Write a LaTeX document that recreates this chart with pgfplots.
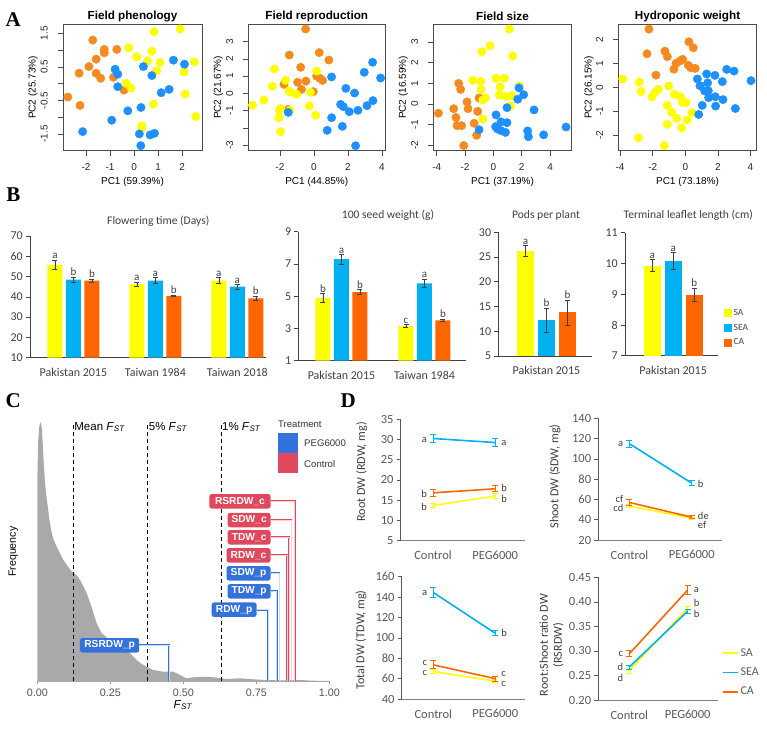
\documentclass[border=0pt]{standalone}
\usepackage{pgfplots}
\pgfplotsset{compat=1.18}
\usepackage{fontspec}
\setmainfont{Liberation Sans}
\newfontfamily\calibri{Carlito}
\newfontfamily\tnr{Liberation Serif}
\definecolor{Aor}{HTML}{F58A1F}
\definecolor{Ayel}{HTML}{FFFF00}
\definecolor{Ablu}{HTML}{1E90FF}
\definecolor{Byel}{HTML}{FFFF00}
\definecolor{Bblu}{HTML}{00B0F0}
\definecolor{Bor}{HTML}{FF6600}
\definecolor{Cgray}{HTML}{A9A9A9}
\definecolor{Cred}{HTML}{E0485D}
\definecolor{Cblu}{HTML}{3571DB}
\definecolor{txt}{HTML}{404040}
\definecolor{tk}{HTML}{595959}
\pgfplotsset{
  /pgf/number format/assume math mode=true,
  Astyle/.style={scale only axis, anchor=south west, clip=false,
    axis line style={black!70, line width=0.6pt},
    tick align=outside, tick pos=left, major tick length=5pt,
    every tick/.style={black!70, line width=0.6pt},
    ticklabel style={font=\fontsize{10}{12}\selectfont, text=black!85},
    xticklabel style={inner sep=1pt, yshift=-7pt},
    yticklabel style={xshift=-9pt, rotate=90, anchor=south, inner sep=1pt}},
  Apt/.style={only marks, mark=*, mark size=4.2pt, mark options={draw=none}},
  Bstyle/.style={scale only axis, anchor=south west, clip mode=individual,
    axis lines=left, axis line style={-, txt, line width=0.6pt},
    xtick style={draw=none}, ytick style={txt, line width=0.6pt},
    tick align=outside, major tick length=4pt,
    ticklabel style={font=\calibri\fontsize{12}{14}\selectfont, text=txt},
    yticklabel style={inner sep=1pt, xshift=-2pt},
    xticklabel style={yshift=-3pt}},
  Bbar/.style={ybar, bar shift=0pt, draw=none, forget plot,
    error bars/y dir=both, error bars/y explicit,
    error bars/error bar style={txt, line width=0.6pt},
    error bars/error mark options={rotate=90, mark size=2.5pt, txt, line width=0.6pt}},
  Dstyle/.style={scale only axis, anchor=south west, clip=false,
    axis lines=left, axis line style={-, line width=0.6pt},
    x axis line style={gray}, y axis line style={tk},
    xtick={0,1}, xticklabels={Control,PEG6000}, xtick style={draw=none},
    ytick style={tk, line width=0.6pt}, tick align=outside, major tick length=4pt,
    ticklabel style={font=\calibri\fontsize{12.5}{14}\selectfont, text=tk},
    yticklabel style={inner sep=1pt, xshift=-2pt}, xticklabel style={yshift=-3pt}},
  Dln/.style={line width=1.6pt, forget plot, mark=none,
    error bars/y dir=both, error bars/y explicit,
    error bars/error bar style={line width=1pt},
    error bars/error mark options={rotate=90, mark size=3pt, line width=1pt}},
}
\tikzset{
  Blet/.style={font=\calibri\fontsize{11}{13}\selectfont, text=txt, anchor=south, inner sep=1pt},
  Dlet/.style={font=\calibri\fontsize{10.5}{12}\selectfont, text=txt, inner sep=0pt},
  Clab/.style={fill=#1, text=white, font=\bfseries\fontsize{10.2}{12}\selectfont, rounded corners=2.5pt, minimum height=14.5pt, inner sep=1pt},
  Atitle/.style={font=\bfseries\fontsize{11.7}{14}\selectfont},
  Alab/.style={font=\fontsize{10}{12}\selectfont},
  Btitle/.style={font=\calibri\fontsize{11.6}{14}\selectfont, text=txt},
  Dylab/.style={rotate=90, font=\calibri\fontsize{12.2}{14}\selectfont, text=txt, align=center},
  Plet/.style={font=\tnr\bfseries\fontsize{21}{24}\selectfont}
}
\newcommand{\bl}[3]{\node[Blet] at (axis cs:#1,#2) {#3};}
\newcommand{\dL}[2]{\node[Dlet, anchor=east, xshift=-6pt] at (axis cs:0,#1) {#2};}
\newcommand{\dR}[2]{\node[Dlet, anchor=west, xshift=6pt] at (axis cs:1,#1) {#2};}
\begin{document}
\begin{tikzpicture}
\path[use as bounding box] (0pt,0pt) rectangle (767pt,-728pt);

% ================= Panel A =================
\begin{axis}[Astyle, at={(63pt,-150.7pt)}, width=139pt, height=126.4pt,
  xmin=-2.96, xmax=2.83, ymin=-2.0, ymax=1.77,
  xtick={-2,-1,0,1,2}, xticklabels={-2,-1,0,1,2},
  ytick={-1.5,-1,-0.5,0,0.5,1,1.5}, yticklabels={-1.5,,-0.5,,0.5,,1.5}]
\addplot[Apt, Aor] coordinates {(-1.72,1.30) (-1.24,1.02) (-1.24,0.92) (-0.72,1.02) (-1.58,0.73) (-1.88,0.51) (-2.29,0.31) (-1.58,0.31) (-1.39,0.16) (-0.86,0.19) (-0.42,-0.19) (-2.76,-0.40) (-2.25,-0.65)};
\addplot[Apt, Ayel] coordinates {(0.83,1.55) (1.92,1.63) (-0.22,1.07) (0.74,0.97) (0.11,0.80) (0.56,0.68) (1.08,0.63) (2.51,0.65) (0.94,0.38) (2.08,0.35) (-0.33,0.01) (-0.13,-0.13) (2.13,-0.31) (0.81,-0.61) (2.57,-0.98) (0.32,-1.26) (0.32,-1.33)};
\addplot[Apt, Ablu] coordinates {(-0.79,0.43) (-0.68,0.28) (0.39,0.51) (0.74,0.24) (1.64,0.70) (2.10,0.58) (-0.68,-0.09) (1.46,-0.17) (1.13,-0.27) (-0.26,-0.81) (0.29,-0.71) (-0.93,-1.09) (-2.14,-1.43) (0.22,-1.50) (0.67,-1.53) (0.85,-1.48) (0.28,-1.85)};
\end{axis}

\begin{axis}[Astyle, at={(248.3pt,-150.7pt)}, width=136.7pt, height=126.4pt,
  xmin=-3.86, xmax=4.18, ymin=-3.32, ymax=4.0,
  xtick={-2,0,2,4}, xticklabels={-2,0,2,4},
  ytick={-3,-2,-1,0,1,2,3}, yticklabels={-3,,-1,0,1,2,3}]
\addplot[Apt, Aor] coordinates {(-0.49,3.73) (-1.45,2.22) (0.31,2.36) (0.88,1.93) (-0.78,1.51) (-0.96,0.64) (-0.47,0.71) (-1.76,0.52) (0.16,1.00) (0.35,0.87) (0.51,0.75) (-0.73,0.23) (-0.04,0.10) (-1.51,-0.93)};
\addplot[Apt, Ayel] coordinates {(-2.33,1.41) (-1.67,0.75) (0.16,1.29) (-2.45,0.41) (-1.47,0.14) (-1.35,0.06) (-1.02,-0.06) (-0.20,0.06) (-2.94,-0.39) (-3.61,-0.69) (-1.96,-0.87) (-2.04,-0.97) (-1.41,-0.98) (-0.27,-0.73) (0.10,-1.27) (-2.06,-1.41) (-1.96,-2.22)};
\addplot[Apt, Ablu] coordinates {(1.04,0.95) (1.88,0.29) (2.39,0.02) (2.96,1.22) (3.45,1.80) (3.92,0.89) (1.04,-1.41) (1.57,-0.64) (1.73,-0.77) (2.08,-1.06) (2.59,-0.98) (3.12,-0.71) (3.47,-0.42) (1.67,-1.91) (0.78,-2.14) (2.45,-3.03) (-1.51,-1.10)};
\end{axis}

\begin{axis}[Astyle, at={(433.3pt,-150.7pt)}, width=138.4pt, height=126.4pt,
  xmin=-4.24, xmax=5.53, ymin=-2.27, ymax=3.87,
  xtick={-4,-2,0,2,4}, xticklabels={-4,-2,0,2,4},
  ytick={-2,-1,0,1,2,3}, yticklabels={-2,-1,0,1,2,3}]
\addplot[Apt, Aor] coordinates {(-2.45,1.00) (-2.31,0.71) (-1.86,0.10) (-1.79,-0.23) (-1.01,0.29) (-2.80,-0.23) (-1.11,-0.36) (-3.88,-0.45) (-2.64,-0.66) (-2.56,-1.05) (-2.24,-1.05) (-1.36,-0.94) (-1.18,-1.52) (-2.09,-2.02)};
\addplot[Apt, Ayel] coordinates {(1.13,3.64) (-0.24,2.83) (-0.82,2.54) (1.36,2.33) (-1.46,1.15) (-0.89,1.10) (0.19,1.25) (0.78,1.25) (-0.87,0.70) (0.47,0.83) (0.42,0.44) (0.87,0.36) (1.29,0.40) (1.81,0.87) (-0.75,0.19) (-0.56,0.29) (1.22,-0.10) (-0.75,-0.73)};
\addplot[Apt, Ablu] coordinates {(1.81,0.78) (2.14,0.45) (1.72,0.23) (2.87,-0.29) (0.96,-0.18) (0.19,-0.53) (-1.01,-1.25) (0.16,-1.10) (0.28,-1.21) (0.52,-1.29) (0.54,-0.87) (0.96,-0.91) (0.85,-1.38) (2.42,-1.31) (2.47,-1.59) (3.55,-1.50) (5.13,-1.12)};
\end{axis}

\begin{axis}[Astyle, at={(618.3pt,-150.7pt)}, width=138.4pt, height=126.4pt,
  xmin=-4.11, xmax=4.38, ymin=-2.64, ymax=2.63,
  xtick={-4,-2,0,2,4}, xticklabels={-4,-2,0,2,4},
  ytick={-2,-1,0,1,2}, yticklabels={-2,-1,0,1,2}]
\addplot[Apt, Aor] coordinates {(-2.23,2.43) (0.22,1.90) (0.49,1.65) (-1.25,1.51) (-1.10,1.28) (-2.35,1.40) (-0.57,1.00) (-0.33,1.10) (-0.16,1.17) (-0.70,0.76) (0.18,0.92) (0.33,0.82) (0.61,0.79) (-1.80,0.51)};
\addplot[Apt, Ayel] coordinates {(-3.84,0.35) (-2.82,0.22) (-2.72,-0.17) (-1.66,-0.08) (-1.86,-0.21) (-2.04,-0.40) (-1.02,0.06) (-0.67,-0.29) (-0.31,-0.39) (-0.16,-0.63) (0.04,-0.63) (-1.10,-0.75) (-0.84,-1.04) (-0.53,-1.29) (0.41,-1.06) (0.12,-1.36) (-1.10,-1.54) (-0.22,-1.69) (-2.88,-2.10) (-1.29,-2.43)};
\addplot[Apt, Ablu] coordinates {(0.74,0.35) (1.31,0.56) (1.82,0.50) (2.54,0.75) (2.99,0.68) (4.03,0.28) (0.90,0.07) (1.37,0.19) (2.27,0.24) (1.19,-0.15) (1.41,-0.14) (1.43,-0.43) (1.84,-0.39) (2.31,-0.51) (1.04,-0.75) (1.86,-0.78) (3.07,-0.88) (0.82,-1.13)};
\end{axis}

\node[Atitle] at (132.5pt,-16pt) {Field phenology};
\node[Atitle] at (316.7pt,-16pt) {Field reproduction};
\node[Atitle] at (502.5pt,-16pt) {Field size};
\node[Atitle] at (687.5pt,-16pt) {Hydroponic weight};
\node[Alab] at (132.5pt,-182pt) {PC1 (59.39\%)};
\node[Alab] at (316.7pt,-182pt) {PC1 (44.85\%)};
\node[Alab] at (502.5pt,-182pt) {PC1 (37.19\%)};
\node[Alab] at (687.5pt,-182pt) {PC1 (73.18\%)};
\node[Alab, rotate=90] at (33pt,-87.5pt) {PC2 (25.73\%)};
\node[Alab, rotate=90] at (218.3pt,-87.5pt) {PC2 (21.67\%)};
\node[Alab, rotate=90] at (403.3pt,-87.5pt) {PC2 (16.59\%)};
\node[Alab, rotate=90] at (589pt,-87.5pt) {PC2 (26.15\%)};

% ================= Panel B =================
\begin{axis}[Bstyle, at={(30pt,-357.7pt)}, width=236pt, height=121.7pt,
  xmin=-0.53, xmax=2.35, ymin=10, ymax=70, ytick={10,20,...,70},
  xtick={0,1,2}, xticklabels={Pakistan 2015,Taiwan 1984,Taiwan 2018}]
\addplot[Bbar, bar width=15pt, fill=Byel] coordinates {(-0.2258,55.8) +- (0,2.3) (0.7742,46.3) +- (0,1.0) (1.7742,48.0) +- (0,1.4)};
\addplot[Bbar, bar width=15pt, fill=Bblu] coordinates {(0,48.5) +- (0,1.2) (1,48.0) +- (0,1.5) (2,45.0) +- (0,1.2)};
\addplot[Bbar, bar width=15pt, fill=Bor] coordinates {(0.2258,48.0) +- (0,0.8) (1.2258,40.5) +- (0,0.4) (2.2258,39.2) +- (0,1.1)};
\bl{-0.2258}{58.1}{a}\bl{0}{49.7}{b}\bl{0.2258}{48.8}{b}
\bl{0.7742}{47.3}{a}\bl{1}{49.5}{a}\bl{1.2258}{40.9}{b}
\bl{1.7742}{49.4}{a}\bl{2}{46.2}{a}\bl{2.2258}{40.3}{b}
\end{axis}

\begin{axis}[Bstyle, at={(298.3pt,-360.7pt)}, width=167.7pt, height=129pt,
  xmin=-0.52, xmax=1.5, ymin=1, ymax=9, ytick={1,3,5,7,9},
  xtick={0,1}, xticklabels={Pakistan 2015,Taiwan 1984}]
\addplot[Bbar, bar width=15pt, fill=Byel] coordinates {(-0.2228,4.9) +- (0,0.25) (0.7772,3.15) +- (0,0.1)};
\addplot[Bbar, bar width=15pt, fill=Bblu] coordinates {(0,7.3) +- (0,0.3) (1,5.8) +- (0,0.25)};
\addplot[Bbar, bar width=15pt, fill=Bor] coordinates {(0.2228,5.25) +- (0,0.15) (1.2228,3.5) +- (0,0.08)};
\bl{-0.2228}{5.15}{b}\bl{0}{7.6}{a}\bl{0.2228}{5.4}{b}
\bl{0.7772}{3.25}{c}\bl{1}{6.05}{a}\bl{1.2228}{3.58}{b}
\end{axis}

\begin{axis}[Bstyle, at={(498.3pt,-356pt)}, width=93.8pt, height=123.7pt,
  xmin=-0.58, xmax=0.55, ymin=5, ymax=30, ytick={5,10,...,30},
  xtick={0}, xticklabels={Pakistan 2015}]
\addplot[Bbar, bar width=17pt, fill=Byel] coordinates {(-0.253,26.2) +- (0,1.1)};
\addplot[Bbar, bar width=17pt, fill=Bblu] coordinates {(0,12.2) +- (0,2.5)};
\addplot[Bbar, bar width=17pt, fill=Bor] coordinates {(0.253,13.8) +- (0,2.5)};
\bl{-0.253}{27.3}{a}\bl{0}{14.7}{b}\bl{0.253}{16.3}{b}
\end{axis}

\begin{axis}[Bstyle, at={(625pt,-355.7pt)}, width=93pt, height=123pt,
  xmin=-0.58, xmax=0.54, ymin=7, ymax=11, ytick={7,8,...,11},
  xtick={0}, xticklabels={Pakistan 2015},
  legend style={at={(1.065,0.396)}, anchor=north west, draw=none, fill=none,
    font=\calibri\fontsize{9.5}{11}\selectfont, text=txt, row sep=3pt, inner sep=0pt},
  legend cell align=left]
\addplot[Bbar, bar width=17pt, fill=Byel] coordinates {(-0.2529,9.93) +- (0,0.2)};
\addplot[Bbar, bar width=17pt, fill=Bblu] coordinates {(0,10.08) +- (0,0.27)};
\addplot[Bbar, bar width=17pt, fill=Bor] coordinates {(0.2529,8.98) +- (0,0.22)};
\bl{-0.2529}{10.13}{a}\bl{0}{10.35}{a}\bl{0.2529}{9.2}{b}
\addlegendimage{legend image code/.code={\fill[Byel] (0pt,-3.5pt) rectangle (7pt,3.5pt);}}
\addlegendentry{SA}
\addlegendimage{legend image code/.code={\fill[Bblu] (0pt,-3.5pt) rectangle (7pt,3.5pt);}}
\addlegendentry{SEA}
\addlegendimage{legend image code/.code={\fill[Bor] (0pt,-3.5pt) rectangle (7pt,3.5pt);}}
\addlegendentry{CA}
\end{axis}

\node[Btitle] at (158.3pt,-221.7pt) {Flowering time (Days)};
\node[Btitle] at (388pt,-215.7pt) {100 seed weight (g)};
\node[Btitle] at (546pt,-215.7pt) {Pods per plant};
\node[Btitle] at (688.3pt,-215.7pt) {Terminal leaflet length (cm)};

% ================= Panel C =================
\begin{axis}[scale only axis, anchor=south west, at={(37.3pt,-681pt)}, width=292pt, height=260pt,
  xmin=0, xmax=1, ymin=0, ymax=260, clip=false,
  axis x line=bottom, axis y line=none, axis line style={-, black!35, line width=0.5pt},
  xtick={0,0.25,0.5,0.75,1}, xticklabels={0.00,0.25,0.50,0.75,1.00},
  tick align=outside, major tick length=3pt, xtick style={black!40, line width=0.5pt},
  ticklabel style={font=\fontsize{10.8}{13}\selectfont, text=black!68},
  xticklabel style={yshift=-1pt}]
\addplot[fill=Cgray, draw=none, forget plot] coordinates {(0,200) (0.003,240) (0.007,255) (0.012,259) (0.016,252) (0.021,223) (0.026,200) (0.031,185) (0.037,172) (0.042,160) (0.048,150) (0.055,142) (0.062,137) (0.072,131) (0.089,121) (0.106,114) (0.118,109.5) (0.126,108) (0.140,104) (0.152,98) (0.169,88) (0.186,74) (0.203,58) (0.220,48) (0.249,41) (0.283,34) (0.317,28) (0.340,21) (0.363,16) (0.397,11) (0.432,9.3) (0.466,9.3) (0.489,6) (0.511,2.7) (0.534,3.7) (0.568,4.3) (0.603,3.7) (0.648,2) (0.694,2.7) (0.740,1.7) (0.785,1) (0.842,0.7) (0.900,1) (0.945,0.3) (1.0,0)} \closedcycle;
\addplot[black, line width=0.9pt, dash pattern=on 4pt off 3pt, forget plot] coordinates {(0.123,0) (0.123,258)};
\addplot[black, line width=0.9pt, dash pattern=on 4pt off 3pt, forget plot] coordinates {(0.378,0) (0.378,258)};
\addplot[black, line width=0.9pt, dash pattern=on 4pt off 3pt, forget plot] coordinates {(0.629,0) (0.629,258)};
% connectors
\addplot[Cred, line width=0.5pt, double=Cred!25, double distance=0.7pt, forget plot] coordinates {(0.799,179.7) (0.882,179.7) (0.882,0)};
\addplot[Cred, line width=0.5pt, double=Cred!25, double distance=0.7pt, forget plot] coordinates {(0.799,161) (0.871,161) (0.871,0)};
\addplot[Cred, line width=0.5pt, double=Cred!25, double distance=0.7pt, forget plot] coordinates {(0.799,143.7) (0.863,143.7) (0.863,0)};
\addplot[Cred, line width=0.5pt, double=Cred!25, double distance=0.7pt, forget plot] coordinates {(0.799,125.7) (0.856,125.7) (0.856,0)};
\addplot[Cblu, line width=0.5pt, double=Cblu!25, double distance=0.7pt, forget plot] coordinates {(0.799,107.7) (0.829,107.7) (0.829,0)};
\addplot[Cblu, line width=0.5pt, double=Cblu!25, double distance=0.7pt, forget plot] coordinates {(0.799,89.7) (0.820,89.7) (0.820,0)};
\addplot[Cblu, line width=0.5pt, double=Cblu!25, double distance=0.7pt, forget plot] coordinates {(0.751,71.3) (0.791,71.3) (0.791,0)};
\addplot[Cblu, line width=0.5pt, double=Cblu!25, double distance=0.7pt, forget plot] coordinates {(0.349,35.7) (0.451,35.7) (0.451,0)};
\node[Clab=Cred, minimum width=61.3pt] at (axis cs:0.694,179.7) {RSRDW\_c};
\node[Clab=Cred, minimum width=42.9pt] at (axis cs:0.7255,161) {SDW\_c};
\node[Clab=Cred, minimum width=42.9pt] at (axis cs:0.7255,143.7) {TDW\_c};
\node[Clab=Cred, minimum width=44.1pt] at (axis cs:0.7235,125.7) {RDW\_c};
\node[Clab=Cblu, minimum width=44.1pt] at (axis cs:0.7235,107.7) {SDW\_p};
\node[Clab=Cblu, minimum width=42.9pt] at (axis cs:0.7255,89.7) {TDW\_p};
\node[Clab=Cblu, minimum width=45pt] at (axis cs:0.674,71.3) {RDW\_p};
\node[Clab=Cblu, minimum width=59.3pt] at (axis cs:0.2475,35.7) {RSRDW\_p};
\node[anchor=west, inner sep=1pt, font=\fontsize{11.5}{13}\selectfont] at (axis cs:0.123,254) {Mean \textit{F}\textsubscript{\textit{ST}}};
\node[anchor=west, inner sep=1pt, font=\fontsize{11.5}{13}\selectfont] at (axis cs:0.378,254) {5\% \textit{F}\textsubscript{\textit{ST}}};
\node[anchor=west, inner sep=1pt, font=\fontsize{11.5}{13}\selectfont] at (axis cs:0.629,254) {1\% \textit{F}\textsubscript{\textit{ST}}};
% legend keys (Treatment)
\addplot[fill=Cblu, draw=none, forget plot] coordinates {(0.8243,228) (0.8928,228) (0.8928,248) (0.8243,248)};
\addplot[fill=Cred, draw=none, forget plot] coordinates {(0.8243,208) (0.8928,208) (0.8928,228) (0.8243,228)};
\node[anchor=west, inner sep=0pt, font=\fontsize{9.6}{11}\selectfont, text=black!80] at (axis cs:0.9135,237.5) {PEG6000};
\node[anchor=west, inner sep=0pt, font=\fontsize{9.6}{11}\selectfont, text=black!80] at (axis cs:0.9135,216.5) {Control};
\end{axis}
\node[anchor=west, font=\fontsize{9.6}{11}\selectfont, text=black!80, inner sep=0pt] at (278pt,-424pt) {Treatment};
\node[font=\fontsize{11.5}{13}\selectfont] at (183pt,-705pt) {\textit{F}\textsubscript{\textit{ST}}};
\node[rotate=90, font=\fontsize{10.6}{12}\selectfont] at (13.3pt,-551.7pt) {Frequency};

% ================= Panel D =================
\begin{axis}[Dstyle, at={(400.7pt,-540.7pt)}, width=124.3pt, height=121.7pt,
  xmin=-0.52, xmax=1.48, ymin=5, ymax=35, ytick={5,10,...,35}]
\addplot[Dln, Byel] coordinates {(0,13.7) +- (0,0.5) (1,16.0) +- (0,0.6)};
\addplot[Dln, Bblu] coordinates {(0,30.2) +- (0,1.1) (1,29.2) +- (0,0.9)};
\addplot[Dln, Bor] coordinates {(0,16.8) +- (0,0.9) (1,17.8) +- (0,0.7)};
\dL{29.8}{a}\dL{16.6}{b}\dL{13.4}{b}
\dR{29.0}{a}\dR{18.0}{b}\dR{15.3}{b}
\end{axis}

\begin{axis}[Dstyle, at={(598.3pt,-540pt)}, width=123.4pt, height=121.7pt,
  xmin=-0.5, xmax=1.48, ymin=20, ymax=140, ytick={20,40,...,140}]
\addplot[Dln, Byel] coordinates {(0,53.5) +- (0,1.5) (1,41.5) +- (0,1)};
\addplot[Dln, Bblu] coordinates {(0,115) +- (0,3.5) (1,76) +- (0,2.5)};
\addplot[Dln, Bor] coordinates {(0,57) +- (0,3) (1,42.5) +- (0,1.5)};
\dL{115}{a}\dL{60.6}{cf}\dL{51.2}{cd}
\dR{75.2}{b}\dR{44.2}{de}\dR{34.6}{ef}
\end{axis}

\begin{axis}[Dstyle, at={(401.7pt,-699pt)}, width=123.3pt, height=122.3pt,
  xmin=-0.51, xmax=1.48, ymin=40, ymax=160, ytick={40,60,...,160}]
\addplot[Dln, Byel] coordinates {(0,67) +- (0,2) (1,57.5) +- (0,1.5)};
\addplot[Dln, Bblu] coordinates {(0,144.5) +- (0,4.5) (1,104.5) +- (0,2.5)};
\addplot[Dln, Bor] coordinates {(0,73.5) +- (0,4) (1,60) +- (0,2.5)};
\dL{144.3}{a}\dL{75.5}{c}\dL{65.3}{c}
\dR{104.5}{b}\dR{65}{c}\dR{54.8}{c}
\end{axis}

\begin{axis}[Dstyle, at={(598.3pt,-700pt)}, width=119.7pt, height=122.7pt,
  xmin=-0.53, xmax=1.52, ymin=0.2, ymax=0.45, ytick={0.2,0.25,...,0.46},
  yticklabels={0.20,0.25,0.30,0.35,0.40,0.45},
  legend style={at={(1.031,0.437)}, anchor=north west, draw=none, fill=none,
    font=\calibri\fontsize{12}{14}\selectfont, text=tk, row sep=6pt, inner sep=0pt},
  legend cell align=left]
\addplot[Dln, Byel] coordinates {(0,0.260) +- (0,0.005) (1,0.387) +- (0,0.004)};
\addplot[Dln, Bblu] coordinates {(0,0.267) +- (0,0.004) (1,0.381) +- (0,0.004)};
\addplot[Dln, Bor] coordinates {(0,0.294) +- (0,0.006) (1,0.424) +- (0,0.009)};
\dL{0.293}{c}\dL{0.267}{d}\dL{0.245}{d}
\dR{0.425}{a}\dR{0.397}{b}\dR{0.376}{b}
\addlegendimage{legend image code/.code={\draw[Byel, line width=1.6pt] (0pt,0pt) -- (15pt,0pt);}}
\addlegendentry{SA}
\addlegendimage{legend image code/.code={\draw[Bblu, line width=1.6pt] (0pt,0pt) -- (15pt,0pt);}}
\addlegendentry{SEA}
\addlegendimage{legend image code/.code={\draw[Bor, line width=1.6pt] (0pt,0pt) -- (15pt,0pt);}}
\addlegendentry{CA}
\end{axis}

\node[Dylab] at (361.7pt,-472pt) {Root DW (RDW, mg)};
\node[Dylab] at (555pt,-476.5pt) {Shoot DW (SDW, mg)};
\node[Dylab] at (361pt,-640pt) {Total DW (TDW, mg)};
\node[Dylab] at (551.5pt,-645pt) {Root:Shoot ratio DW\\(RSRDW)};

% panel letters
\node[Plet] at (13.3pt,-20pt) {A};
\node[Plet] at (13.3pt,-195pt) {B};
\node[Plet] at (13.3pt,-401pt) {C};
\node[Plet] at (348.3pt,-401pt) {D};
\end{tikzpicture}
\end{document}
